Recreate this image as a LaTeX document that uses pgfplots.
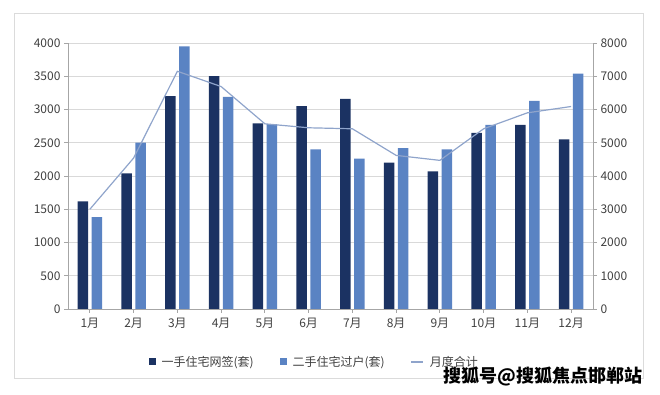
\documentclass[border=0pt]{standalone}
\usepackage{fontspec}
\setmainfont{Noto Sans CJK SC}
\usepackage{pgfplots}
\pgfplotsset{compat=1.18}
\definecolor{darkbar}{HTML}{1B3262}
\definecolor{lightbar}{HTML}{5A83C3}
\definecolor{linec}{HTML}{8FA4CB}
\definecolor{axgray}{HTML}{A6A6A6}
\definecolor{txt}{HTML}{404040}
\begin{document}
\begin{tikzpicture}[x=1pt,y=1pt]
\path[use as bounding box] (0,0) rectangle (660,395);
\draw[black!14, line width=0.9pt] (14,382) rectangle (643,17);
\begin{axis}[
  at={(68pt,86pt)}, anchor=south west,
  width=525pt, height=266pt, scale only axis,
  xmin=0.5, xmax=12.5, ymin=0, ymax=4000,
  ytick={0,500,...,4000},
  xtick={1,...,12},
  xticklabels={1月,2月,3月,4月,5月,6月,7月,8月,9月,10月,11月,12月},
  ymajorgrids, grid style={black!15, line width=0.6pt},
  axis x line*=bottom, axis y line*=left,
  axis line style={axgray, line width=0.8pt, -},
  tick style={axgray, line width=0.8pt},
  tick align=outside, major tick length=4pt,
  ticklabel style={font=\fontsize{12}{14}\selectfont, text=txt},
  /pgf/number format/1000 sep={},
  /pgf/number format/assume math mode=true,
  xticklabel style={yshift=-2pt},
  ybar=3.5pt, bar width=10.5pt,
  legend columns=3,
  legend style={draw=none, fill=none, at={(0.469,-0.199)}, anchor=center,
    font=\fontsize{12}{14}\selectfont, text=txt,
    /tikz/every odd column/.append style={column sep=4pt},
    /tikz/every even column/.append style={column sep=24pt}},
  legend cell align=left,
]
\addplot[fill=darkbar, draw=none,
  legend image code/.code={\fill[darkbar] (0pt,-3.5pt) rectangle (7pt,3.5pt);}]
  coordinates {(1,1620) (2,2040) (3,3200) (4,3500) (5,2790) (6,3050) (7,3160) (8,2200) (9,2070) (10,2650) (11,2770) (12,2550)};
\addlegendentry{一手住宅网签(套)}
\addplot[fill=lightbar, draw=none,
  legend image code/.code={\fill[lightbar] (0pt,-3.5pt) rectangle (7pt,3.5pt);}]
  coordinates {(1,1380) (2,2500) (3,3950) (4,3190) (5,2780) (6,2400) (7,2260) (8,2420) (9,2400) (10,2770) (11,3130) (12,3540)};
\addlegendentry{二手住宅过户(套)}
\addlegendimage{linec, line width=1.2pt, legend image code/.code={\draw[linec, line width=1.2pt] (0pt,0pt) -- (12pt,0pt);}}
\addlegendentry{月度合计}
\end{axis}
\begin{axis}[
  at={(68pt,86pt)}, anchor=south west,
  width=525pt, height=266pt, scale only axis,
  xmin=0.5, xmax=12.5, ymin=0, ymax=8000,
  ytick={0,1000,...,8000},
  axis x line=none, axis y line*=right,
  axis line style={axgray, line width=0.8pt, -},
  tick style={axgray, line width=0.8pt},
  tick align=outside, major tick length=4pt,
  ticklabel style={font=\fontsize{12}{14}\selectfont, text=txt},
  /pgf/number format/1000 sep={},
  /pgf/number format/assume math mode=true,
]
\addplot[linec, line width=1.2pt, mark=none]
  coordinates {(1,3000) (2,4540) (3,7150) (4,6690) (5,5570) (6,5450) (7,5420) (8,4620) (9,4470) (10,5420) (11,5900) (12,6090)};
\end{axis}
\node[anchor=east, font=\fontsize{18}{20}\selectfont\bfseries, text=black] at (646,18) {搜狐号@搜狐焦点邯郸站};
\end{tikzpicture}
\end{document}
